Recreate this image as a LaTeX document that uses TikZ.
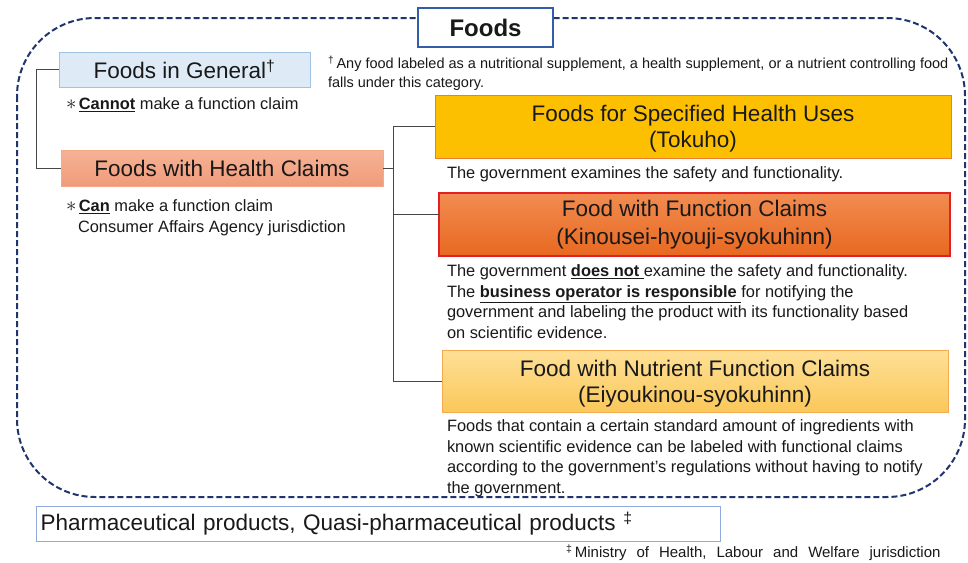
\documentclass[tikz,border=0pt]{standalone}
\usepackage{fontspec}
\setmainfont{Liberation Sans}
\usetikzlibrary{calc}

\definecolor{navy}{RGB}{32,52,110}
\definecolor{titleblue}{RGB}{52,94,168}
\definecolor{genfill}{RGB}{222,235,247}
\definecolor{genline}{RGB}{160,195,228}
\definecolor{hctop}{RGB}{246,178,150}
\definecolor{hcbot}{RGB}{240,155,122}
\definecolor{hcline}{RGB}{242,170,135}
\definecolor{tokfill}{RGB}{252,192,0}
\definecolor{tokline}{RGB}{237,125,49}
\definecolor{funtop}{RGB}{241,140,80}
\definecolor{funbot}{RGB}{232,104,32}
\definecolor{funline}{RGB}{226,32,38}
\definecolor{nuttop}{RGB}{254,224,150}
\definecolor{nutbot}{RGB}{250,200,90}
\definecolor{nutline}{RGB}{245,170,80}
\definecolor{pharmline}{RGB}{143,170,220}
\definecolor{ink}{RGB}{25,25,25}
\definecolor{connector}{RGB}{70,70,70}

% invisible strut that sets the height of a title's first line
\newcommand{\headstrut}[1]{\rule{0pt}{#1pt}}
% the light asterisk that opens a remark
\newcommand{\remarkstar}{{\fontsize{19.5}{19.5}\selectfont$\ast$}\hspace{2.5pt}}

\tikzset{
  catbox/.style={inner sep=0pt, outer sep=0pt, anchor=north west, align=center,
    text=ink, font=\fontsize{22.5}{27}\selectfont},
  note/.style={inner sep=0pt, outer sep=0pt, anchor=north west, align=left,
    text=ink, font=\fontsize{16.4}{20.4}\selectfont},
  footnote/.style={inner sep=0pt, outer sep=0pt, anchor=north west, align=left,
    text=ink, font=\fontsize{14.5}{19}\selectfont},
  conn/.style={draw=connector, line width=0.9pt},
}

\begin{document}
\begin{tikzpicture}[x=1pt,y=-1pt]
\useasboundingbox (0,0) rectangle (968,562);
\fill[white] (0,0) rectangle (968,562);

% dashed outline enclosing all foods
\draw[navy, line width=2pt, dash pattern=on 6pt off 3pt, rounded corners=78pt]
  (17,18) rectangle (965,497);

% title
\node[draw=titleblue, line width=2.5pt, fill=white, minimum width=135pt, minimum height=39pt,
  inner sep=0pt, font=\fontsize{24}{28}\selectfont\bfseries, text=ink] (foods) at (485.5,27.5) {Foods};

% categories
\node[catbox, draw=genline, fill=genfill, line width=1pt, minimum width=251pt, minimum height=35pt]
  (gen) at (59,52) {Foods in General\textsuperscript{†}};
\node[catbox, draw=hcline, top color=hctop, bottom color=hcbot, line width=1pt,
  minimum width=322pt, minimum height=36pt] (hc) at (61,150) {Foods with Health Claims};
\node[catbox, draw=tokline, fill=tokfill, line width=1pt, minimum width=516pt, minimum height=63pt,
  font=\fontsize{22.5}{25.5}\selectfont]
  (tok) at (435,95) {\headstrut{20.5}Foods for Specified Health Uses\\(Tokuho)};
\node[catbox, draw=funline, top color=funtop, bottom color=funbot, line width=2.6pt,
  minimum width=511pt, minimum height=63pt, font=\fontsize{22.5}{28}\selectfont]
  (fun) at (439,193) {\headstrut{17}Food with Function Claims\\(Kinousei-hyouji-syokuhinn)};
\node[catbox, draw=nutline, top color=nuttop, bottom color=nutbot, line width=1pt,
  minimum width=506pt, minimum height=62pt, font=\fontsize{22.5}{25.5}\selectfont]
  (nut) at (442,350) {\headstrut{21.5}Food with Nutrient Function Claims\\(Eiyoukinou-syokuhinn)};
\node[catbox, draw=pharmline, fill=white, line width=1pt, minimum width=684pt, minimum height=35pt,
  text width=675pt, align=left] (pharm) at (36,506) {Pharmaceutical products, Quasi-pharmaceutical products \textsuperscript{‡}};

% notes
\node[footnote] (fn) at (328,56) {\textsuperscript{†}\,Any food labeled as a nutritional supplement, a health supplement, or a nutrient controlling food\\falls under this category.};
\node[note] (gennote) at (66,98) {\remarkstar\underline{\textbf{Cannot}} make a function claim};
\node[note] (hcnote) at (66,200) {\remarkstar\underline{\textbf{Can}} make a function claim\\\hspace{12pt}Consumer Affairs Agency jurisdiction};
\node[note] (toknote) at (447,167) {The government examines the safety and functionality.};
\node[note] (funnote) at (447,265) {The government \underline{\textbf{does not}\ }examine the safety and functionality.\\
The \underline{\textbf{business operator is responsible}\ }for notifying the\\
government and labeling the product with its functionality based\\
on scientific evidence.};
\node[note] (nutnote) at (447,420) {Foods that contain a certain standard amount of ingredients with\\
known scientific evidence can be labeled with functional claims\\
according to the government's regulations without having to notify\\
the government.};
\node[footnote, font=\fontsize{15}{19}\selectfont] (mhlw) at (566,545)
  {\spaceskip=10pt plus 1pt\relax\textsuperscript{‡}\,Ministry of Health, Labour and Welfare jurisdiction};

% connectors
\coordinate (lx) at (36,0);
\coordinate (rx) at (393,0);
\draw[conn] (gen.west) -- (gen.west -| lx) -- (hc.west -| lx) -- (hc.west);
\draw[conn] (hc.east) -- (hc.east -| rx);
\draw[conn] (tok.west) -- (tok.west -| rx) -- (nut.west -| rx) -- (nut.west);
\draw[conn] ([yshift=10pt]fun.west -| rx) -- ([yshift=10pt]fun.west);
\end{tikzpicture}
\end{document}
